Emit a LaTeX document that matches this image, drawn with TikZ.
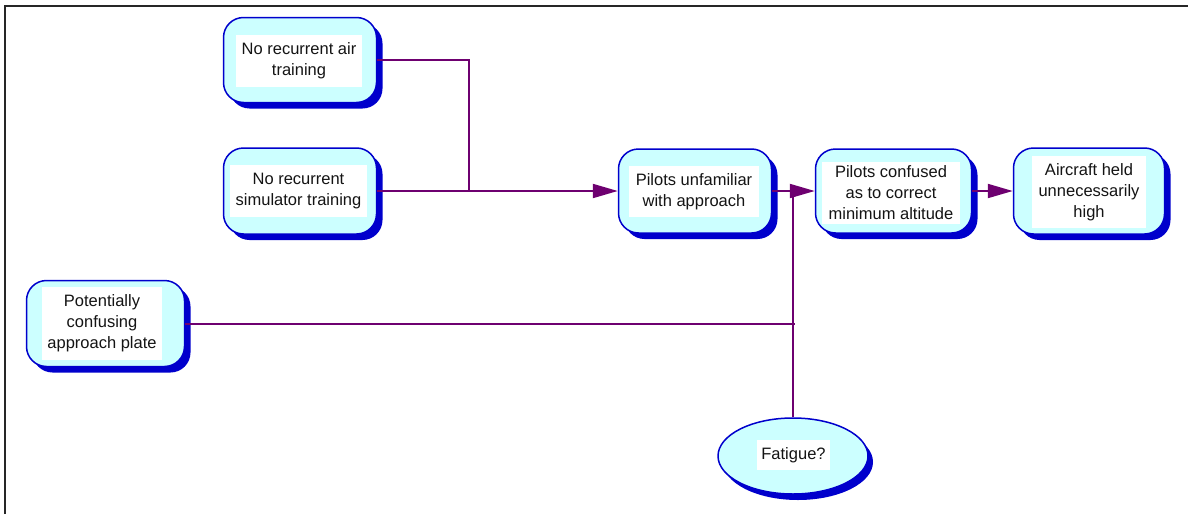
\documentclass[tikz,border=0pt]{standalone}
\usepackage{fontspec}
\setmainfont{Liberation Sans}
\usetikzlibrary{arrows.meta,shapes.geometric,shadows}
\definecolor{boxfill}{RGB}{204,255,255}
\definecolor{boxedge}{RGB}{0,0,204}
\definecolor{linkcol}{RGB}{110,0,112}
\definecolor{inkcol}{RGB}{20,20,20}
\tikzset{
  causebox/.style={draw=boxedge, line width=1.5pt, fill=boxfill, rounded corners=20pt,
    drop shadow={shadow xshift=6pt, shadow yshift=-6pt, fill=boxedge, opacity=1}},
  causeoval/.style={ellipse, draw=boxedge, line width=1.5pt, fill=boxfill,
    drop shadow={shadow xshift=5pt, shadow yshift=-6pt, fill=boxedge, opacity=1}},
  wordbox/.style={fill=white, inner sep=0pt, align=center, text=inkcol,
    font=\fontsize{16.5}{21}\selectfont},
  link/.style={draw=linkcol, line width=2pt},
  arrowlink/.style={link, -{Triangle[length=25pt,width=14pt]}}
}
\begin{document}
\begin{tikzpicture}[x=1pt,y=-1pt]
\useasboundingbox (0,0) rectangle (1188,514);
% frame
\draw[line width=2.5pt, black!85] (5,514) -- (5,6) -- (1188,6);

% causes on the left
\node[causebox, minimum width=153pt, minimum height=85pt] (air) at (300,60) {};
\node[wordbox, minimum width=126pt, minimum height=52pt] (air-txt) at (299,61) {No recurrent air\\training};
\node[causebox, minimum width=153pt, minimum height=86pt] (sim) at (300,191) {};
\node[wordbox, minimum width=137pt, minimum height=52pt] (sim-txt) at (298.5,191) {No recurrent\\simulator training};
\node[causebox, minimum width=158pt, minimum height=86pt] (plate) at (105.5,323.5) {};
\node[wordbox, minimum width=120pt, minimum height=73pt] (plate-txt) at (102,323.5) {Potentially\\confusing\\approach plate};

% main chain
\node[causebox, minimum width=153pt, minimum height=84pt] (unfam) at (695,191) {};
\node[wordbox, minimum width=130pt, minimum height=51pt] (unfam-txt) at (694,191.5) {Pilots unfamiliar\\with approach};
\node[causebox, minimum width=156pt, minimum height=84pt] (confused) at (893.5,191) {};
\node[wordbox, minimum width=138pt, minimum height=62pt] (confused-txt) at (891,193) {Pilots confused\\as to correct\\minimum altitude};
\node[causebox, minimum width=151pt, minimum height=86pt] (held) at (1089,191) {};
\node[wordbox, minimum width=114pt, minimum height=72pt] (held-txt) at (1089,192) {Aircraft held\\unnecessarily\\high};

% fatigue
\node[causeoval, minimum width=150pt, minimum height=76pt, inner sep=0pt] (fatigue) at (793,456) {};
\node[wordbox, minimum width=73pt, minimum height=30pt] (fatigue-txt) at (793.5,455) {Fatigue?};

% connectors
\coordinate (join) at (469,191);
\coordinate (meet) at (fatigue.north |- unfam.east);
\draw[link] (air.east) -| (join);
\draw[arrowlink] (sim.east) -- (unfam.west);
\draw[link] (plate.east) -- ([xshift=2pt]plate.east -| meet);
\draw[link] (fatigue.north) -- (meet);
\draw[arrowlink] (unfam.east) -- (confused.west);
\draw[arrowlink] (confused.east) -- (held.west);
\end{tikzpicture}
\end{document}
